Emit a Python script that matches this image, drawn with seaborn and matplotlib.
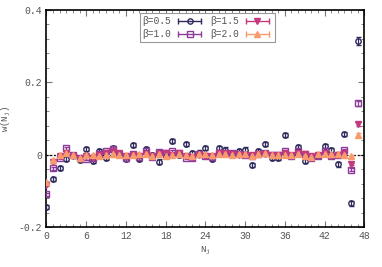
import numpy as np
import matplotlib
matplotlib.use("Agg")
import matplotlib.pyplot as plt
import seaborn as sns
from matplotlib.ticker import MultipleLocator
from matplotlib.lines import Line2D
from matplotlib.legend_handler import HandlerLine2D, HandlerTuple

# ---- data ----
N_j = list(range(48))
w_b05 = [-0.145, -0.067, -0.036, -0.011, -0.002, -0.015, 0.015, -0.018, 0.009, -0.009,
         0.019, 0.004, -0.011, 0.027, -0.012, 0.016, -0.001, -0.019, -0.003, 0.038,
         -0.001, 0.030, 0.004, 0.006, 0.018, -0.012, 0.018, 0.014, 0.005, 0.010,
         0.014, -0.028, 0.010, 0.030, -0.010, -0.010, 0.054, 0.000, 0.020, -0.017,
         -0.008, -0.003, 0.024, 0.012, -0.027, 0.057, -0.135, 0.315]
w_b10 = [-0.110, -0.037, -0.008, 0.018, -0.002, -0.010, -0.012, -0.008, 0.002, 0.010,
         0.015, 0.003, -0.009, 0.002, -0.006, 0.010, -0.006, 0.008, 0.004, 0.010,
         0.004, -0.008, -0.010, 0.002, -0.004, -0.006, 0.004, 0.005, 0.004, 0.002,
         0.000, -0.004, 0.003, 0.004, -0.002, 0.000, 0.010, -0.003, 0.010, 0.002,
         -0.008, -0.003, 0.010, -0.005, 0.000, 0.012, -0.042, 0.142]
w_b15 = [-0.085, -0.020, -0.005, 0.005, -0.004, -0.012, -0.003, -0.008, 0.000, 0.006,
         0.010, 0.004, -0.005, 0.000, -0.004, 0.002, -0.004, 0.002, 0.004, 0.000,
         0.004, -0.004, -0.006, 0.000, -0.003, -0.005, 0.004, 0.004, 0.002, 0.000,
         0.000, -0.002, 0.002, 0.003, -0.002, 0.000, 0.004, -0.002, 0.006, 0.002,
         -0.005, -0.002, 0.005, -0.003, 0.000, 0.006, -0.025, 0.085]
w_b20 = [-0.075, -0.015, -0.002, 0.004, 0.000, -0.008, 0.000, 0.000, -0.003, -0.002,
         0.002, -0.002, 0.000, -0.002, 0.002, 0.002, -0.003, 0.002, -0.004, 0.000,
         0.002, -0.002, -0.005, 0.002, 0.003, -0.002, 0.003, 0.003, 0.000, 0.002,
         0.003, -0.003, 0.002, 0.004, 0.000, 0.000, 0.000, 0.000, 0.003, -0.003,
         -0.006, 0.001, 0.002, 0.003, 0.003, -0.002, -0.004, 0.055]
err_b05 = 0.006
err_b10 = 0.004
err_b15 = 0.003
err_b20 = 0.003
labels = ["β=0.5", "β=1.0", "β=1.5", "β=2.0"]
x_ticks = [0, 6, 12, 18, 24, 30, 36, 42, 48]
y_ticks = [-0.2, 0, 0.2, 0.4]
y_ticklabels = ["-0.2", "0", "0.2", "0.4"]

# ---- style ----
sns.set_theme(style="ticks")
plt.rcParams['font.family'] = ['Liberation Mono', 'DejaVu Sans']

fig = plt.figure(figsize=(3.82, 2.67), dpi=100)
ax = fig.add_axes([0.1217, 0.1498, 0.9537 - 0.1217, 0.9625 - 0.1498])

colors = ["#2e2a5c", "#8d3b99", "#c2397e", "#f99a6d"]
markers = ["o", "s", "v", "^"]
fills = ["none", "none", "full", "full"]
series = [w_b05, w_b10, w_b15, w_b20]
errs = [err_b05, err_b10, err_b15, err_b20]

ax.axhline(0, color="black", lw=0.9, ls=(0, (1.5, 1.5)), zorder=1)

handles = []
hmap = {}
for s, e, c, m, f, lab in zip(series, errs, colors, markers, fills, labels):
    yerr = np.full(len(s), e)
    yerr[-1] = e * 1.8
    mfc = "none" if f == "none" else c
    ax.errorbar(N_j, s, yerr=yerr, fmt=m, ms=3.9, mec=c, mfc=mfc,
                color=c, ecolor=c, elinewidth=0.9, capsize=1.8,
                capthick=0.9, mew=1.0, zorder=3)
    caps = Line2D([], [], color=c, lw=1.0, marker="|", ms=4, mew=1.0)
    mark = Line2D([], [], color=c, lw=0, marker=m, ms=3.8, mec=c, mfc=mfc, mew=1.0)
    hmap[caps] = HandlerLine2D(numpoints=2)
    hmap[mark] = HandlerLine2D(numpoints=1)
    handles.append((caps, mark))

hmap[tuple] = HandlerTuple(ndivide=1, pad=0)

ax.set_xlim(0, 48)
ax.set_ylim(-0.2, 0.4)
ax.set_xticks(x_ticks)
ax.set_yticks(y_ticks)
ax.set_yticklabels(y_ticklabels)
ax.xaxis.set_minor_locator(MultipleLocator(1))
ax.yaxis.set_minor_locator(MultipleLocator(0.04))
ax.tick_params(which="both", direction="in", top=True, right=True,
               labelsize=7, labelcolor="#555555", colors="#777777", pad=3)
ax.tick_params(which="major", length=4, width=0.8)
ax.tick_params(which="minor", length=2, width=0.6)
for sp in ax.spines.values():
    sp.set_color("black")
    sp.set_linewidth(1.2)

ax.set_xlabel("N$_{\\mathregular{j}}$", fontsize=6.5, color="#555555", labelpad=3)
ax.set_ylabel("w(N$_{\\mathregular{j}}$)", fontsize=6.5, color="#555555", labelpad=4)

leg = ax.legend(handles=handles, labels=labels, ncol=2, markerfirst=False,
                loc="upper left", bbox_to_anchor=(0.293, 0.985),
                fontsize=6.9, frameon=True, fancybox=False, framealpha=1,
                edgecolor="#999999", handlelength=3.0, columnspacing=0.6,
                handletextpad=0.45, borderpad=0.3, labelspacing=0.35,
                borderaxespad=0, handler_map=hmap)
leg.get_frame().set_linewidth(0.8)
for t in leg.get_texts():
    t.set_color("#555555")

fig.savefig("out.png", dpi=100)
